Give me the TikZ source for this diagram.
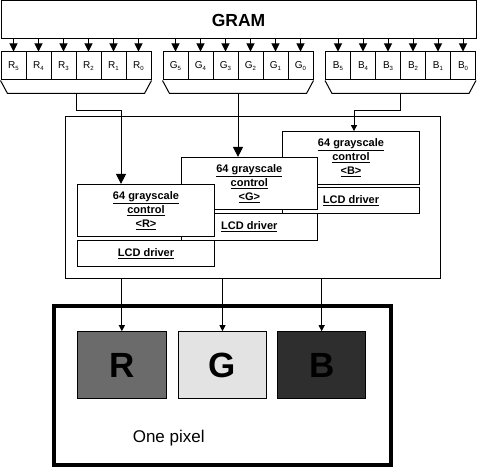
\documentclass[tikz,border=0pt]{standalone}
\usepackage{fontspec}
\setmainfont{Liberation Sans}
\usetikzlibrary{arrows.meta,calc}
\newcommand\subd[1]{\raisebox{-0.25ex}{\fontsize{6}{6}\selectfont #1}}
\newcommand\ctrltext[1]{\underline{64 grayscale}\\\underline{control}\\\underline{<#1>}}
\tikzset{
  ln/.style={line width=1pt},
  cell/.style={draw, ln, minimum width=25pt, minimum height=28pt, inner sep=0pt, font=\fontsize{10}{10}\selectfont},
  ctrlbox/.style={draw, ln, fill=white, minimum width=136.6pt, minimum height=52.5pt, inner sep=0pt, align=center, font=\fontsize{11}{14}\selectfont\bfseries},
  lcdbox/.style={draw, ln, fill=white, minimum width=136.6pt, minimum height=26.7pt, inner sep=0pt, font=\fontsize{11}{14}\selectfont\bfseries},
  sq/.style={draw, ln, minimum width=88.5pt, minimum height=66.6pt, inner sep=0pt, font=\fontsize{35}{35}\selectfont\bfseries},
  arrS/.style={ln, -{Triangle[width=8pt,length=8pt]}},
  arrL/.style={ln, -{Triangle[width=10pt,length=10pt]}},
  arrT/.style={ln, -{Triangle[width=6pt,length=6pt]}},
}
\begin{document}
\begin{tikzpicture}[x=1pt,y=-1pt]
\useasboundingbox (0,0) rectangle (485,468);
% GRAM
\node[draw, ln, minimum width=475pt, minimum height=38pt, inner sep=0pt, font=\fontsize{17.5}{18}\selectfont\bfseries] (gram) at (238.5,20) {GRAM};
% cells
\foreach \g/\xs in {R/1, G/163, B/325.5}{
  \foreach \i/\d in {0/5,1/4,2/3,3/2,4/1,5/0}{
    \node[cell] (\g\d) at ({\xs+12.5+25*\i},66) {\g\subd{\d}};
    \draw[arrS] (\g\d.north |- gram.south) -- (\g\d.north);
  }
}
% trapezoids
\foreach \g in {R,G,B}{
  \draw[ln] (\g5.south west) -- ($(\g5.south west)+(7,13)$) -- ($(\g0.south east)+(-7,13)$) -- (\g0.south east);
  \coordinate (trap\g) at ($(\g5.south west)!0.5!(\g0.south east)+(0,13)$);
}
% middle box
\node[draw, ln, minimum width=375pt, minimum height=161pt, inner sep=0pt] (mid) at (252.5,197.5) {};
% B
\node[ctrlbox] (bctrl) at (351,157.85) {\ctrltext{B}};
\node[lcdbox] (blcd) at (351,200.65) {\underline{LCD driver}};
% G
\node[ctrlbox] (gctrl) at (249.35,183.65) {\ctrltext{G}};
\node[lcdbox] (glcd) at (249.35,226.65) {\underline{LCD driver}};
% R
\node[ctrlbox] (rctrl) at (146,210.65) {\ctrltext{R}};
\node[lcdbox] (rlcd) at (146,253.35) {\underline{LCD driver}};
% connectors from trapezoids
\draw[arrL] (trapR) -- ($(trapR)+(0,17.3)$) -| ([xshift=-25pt]rctrl.north);
\draw[arrL] (trapG) -- (trapG |- gctrl.north);
\draw[arrT] (trapB) -- ($(trapB)+(0,16.7)$) -| ([xshift=3pt]bctrl.north);
% pixel
\node[draw, line width=4pt, minimum width=336.7pt, minimum height=158.5pt, inner sep=0pt] (pix) at (222.15,385.25) {};
\node[sq, fill=black!58] (rsq) at (121.85,365) {R};
\node[sq, fill=black!11] (gsq) at (222.5,365) {G};
\node[sq, fill=black!82] (bsq) at (321.65,365) {B};
\node[font=\fontsize{17}{17}\selectfont] (lbl) at (168.7,438) {One pixel};
\foreach \s in {rsq,gsq,bsq}{
  \draw[arrT] (mid.south -| \s.north) -- (\s.north);
}
\end{tikzpicture}
\end{document}
